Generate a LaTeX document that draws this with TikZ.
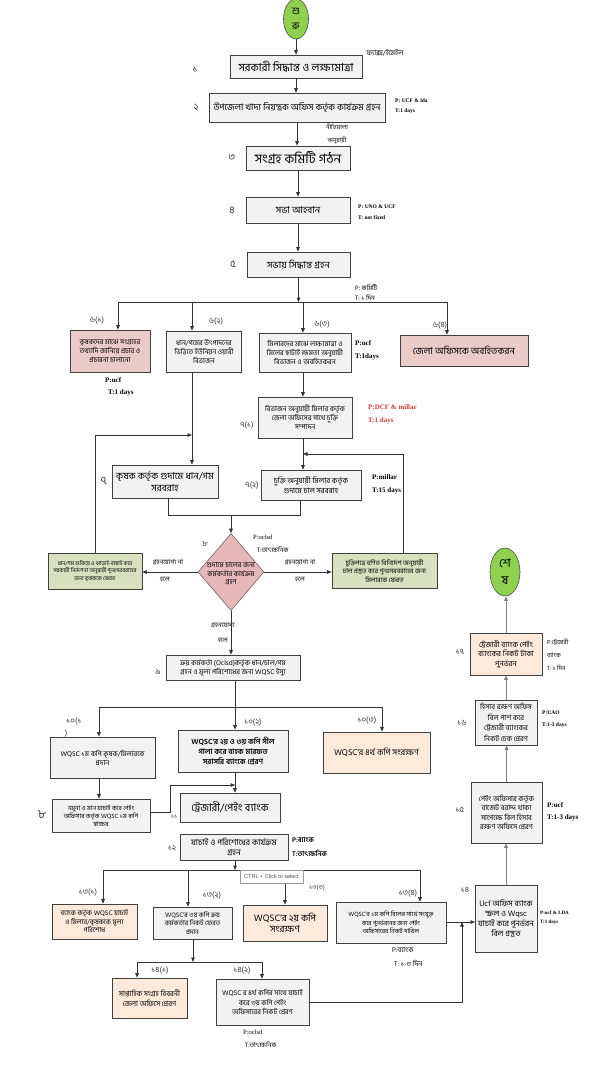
\documentclass[tikz,border=0pt]{standalone}
\usepackage{fontspec}
\setmainfont{Liberation Serif}
\newfontfamily\bn[Script=Bengali]{Hind Siliguri}
\newfontfamily\tipfont{Liberation Sans}
\usetikzlibrary{shapes.geometric,arrows.meta,shadows}
\definecolor{boxgray}{HTML}{F2F2F2}
\definecolor{boxpink}{HTML}{EBCBC8}
\definecolor{diapink}{HTML}{E6B9B8}
\definecolor{boxpeach}{HTML}{FDEADA}
\definecolor{boxgreen}{HTML}{D8E0C0}
\definecolor{startgreen}{HTML}{8FD14F}
\definecolor{redtxt}{HTML}{E03C31}
\tikzset{
  fs/.style 2 args={font=\bn\fontsize{#1}{#2}\selectfont},
  box/.style={draw=black!75, line width=0.7pt, fill=boxgray, align=center, inner sep=1pt,
    drop shadow={shadow xshift=0.9pt, shadow yshift=-0.9pt, fill=black!60}},
  pinkbox/.style={box, fill=boxpink},
  peachbox/.style={box, fill=boxpeach},
  greenbox/.style={box, fill=boxgreen},
  conn/.style={draw=black!80, line width=0.7pt},
  arr/.style={conn, -{Triangle[length=4.5pt,width=3.6pt]}},
  garr/.style={draw=black!50, line width=0.8pt, -{Triangle[length=4.5pt,width=3.6pt]}},
  lbl/.style={font=\bn\fontsize{#1}{#1}\selectfont, inner sep=0, text=black!80},
  lbl/.default=9,
  txt/.style={inner sep=0, align=center},
  side/.style={anchor=west, inner sep=0, font=\bfseries\fontsize{#1}{#1}\selectfont},
  side/.default=5.5,
  bside/.style={anchor=west, inner sep=0, font=\bn\fontsize{#1}{#1}\selectfont},
  bside/.default=6.5,
  tooltip/.style={draw=black!40, fill=white, inner sep=1pt, minimum width=63pt, minimum height=13pt,
    font=\tipfont\fontsize{5.5}{6}\selectfont, text=black!70,
    drop shadow={shadow xshift=0.8pt, shadow yshift=-0.8pt, fill=black!40}},
}
\begin{document}
\begin{tikzpicture}[x=1pt,y=-1pt]
\useasboundingbox (0,0) rectangle (605,1085);
\fill[white] (0,0) rectangle (605,1085);

% start
\node[ellipse, draw=black!70, fill=startgreen, minimum width=25pt, minimum height=40pt, inner sep=0, line width=0.6pt] (st) at (296,19) {};
\node[txt, fs={10}{15}] (stt) at (st) {শু\\রু};
\node[txt, fs={7}{8}] (fax) at (385,53) {ফ্যাক্স/ইমেইল};

% main column
\node[box, fs={11}{12}, minimum width=132pt, minimum height=23pt] (b1) at (296,66.5) {সরকারী সিদ্ধান্ত ও লক্ষ্যমাত্রা};
\node[lbl=10] (n1) at (195,70) {১};
\node[box, fs={9}{10}, minimum width=176pt, minimum height=29pt] (b2) at (297,107.5) {উপজেলা খাদ্য নিয়ন্ত্রক অফিস কর্তৃক কার্যক্রম গ্রহন};
\node[lbl=10] (n2) at (196,108) {২};
\node[side] (p2) at (395,101) {P: UCF \& lda};
\node[side] (t2) at (395,111) {T:1 days};
\node[txt, fs={6}{7}] (nit1) at (337,127) {নীতিমালা};
\node[txt, fs={6}{7}] (nit2) at (337,140) {অনুযায়ী};
\node[box, fs={13}{14}, minimum width=104pt, minimum height=24pt] (b3) at (298,158) {সংগ্রহ কমিটি গঠন};
\node[lbl=10] (n3) at (232,158) {৩};
\node[box, fs={9.5}{10}, minimum width=104pt, minimum height=26pt] (b4) at (298,210) {সভা আহবান};
\node[lbl=10] (n4) at (232,210) {৪};
\node[side] (p4) at (358,207) {P: UNO \& UCF};
\node[side] (t4) at (358,218) {T: not fixed};
\node[box, fs={9.5}{10}, minimum width=103pt, minimum height=25pt] (b5) at (298.5,264.5) {সভায় সিদ্ধান্ত গ্রহন};
\node[lbl=10] (n5) at (233,264) {৫};
\node[bside] (p5) at (355,287) {P: কমিটি};
\node[bside] (t5) at (355,298) {T: ১ দিন};

\draw[arr] (st.south) -- (st.south |- b1.north);
\draw[arr] (b1.south) -- (b1.south |- b2.north);
\draw[arr] (b2.south) -- (b2.south |- b3.north);
\draw[arr] (b3.south) -- (b3.south |- b4.north);
\draw[arr] (b4.south) -- (b4.south |- b5.north);

% row 6
\node[pinkbox, fs={7}{9}, minimum width=80pt, minimum height=42pt] (b61) at (110,351) {কৃষকদের মাঝে সংগ্রহের\\তথ্যাদি জানিয়ে প্রচার ও\\প্রচারনা চালানো};
\node[lbl=8] (n61) at (97,320) {৬(১)};
\node[side=7] (p61) at (105,380) {P:ucf};
\node[side=7] (t61) at (108,393) {T:1 days};
\node[box, fs={7}{9}, minimum width=75pt, minimum height=41pt] (b62) at (204,351.5) {ধান/গমের উৎপাদনের\\ভিত্তিতে ইউনিয়ন ওয়ারী\\বিভাজন};
\node[lbl=8] (n62) at (216,321) {৬(২)};
\node[box, fs={7}{9}, minimum width=92pt, minimum height=39pt] (b63) at (305,352.5) {মিলারদের মাঝে লক্ষ্যমাত্রা ও\\মিলের ছাটাই ক্ষমতা অনুযায়ী\\বিভাজন ও অবহিতকরন};
\node[lbl=8] (n63) at (322,324) {৬(৩)};
\node[side=7] (p63) at (355,343) {P:ucf};
\node[side=7] (t63) at (355,357) {T:1days};
\node[pinkbox, fs={9.5}{10}, minimum width=128pt, minimum height=31pt] (b64) at (464,350.5) {জেলা অফিসকে অবহিতকরন};
\node[lbl=8] (n64) at (440,325) {৬(৪)};

\coordinate (j5) at (298.5,302);
\coordinate (d1) at (118,302);
\coordinate (d2) at (192,302);
\coordinate (d3) at (303,302);
\coordinate (d4) at (447,302);
\draw[arr] (b5.south) -- (j5);
\draw[conn] (d1) -- (d4);
\draw[arr] (d1) -- (d1 |- b61.north);
\draw[arr] (d2) -- (d2 |- b62.north);
\draw[arr] (d3) -- (d3 |- b63.north);
\draw[arr] (d4) -- (d4 |- b64.north);

% row 7
\node[box, fs={7}{9}, minimum width=94pt, minimum height=41pt] (b71) at (305,417.5) {বিভাজন অনুযায়ী মিলার কর্তৃক\\জেলা অফিসের সাথে চুক্তি\\সম্পাদন};
\node[lbl=8] (n71) at (247,425) {৭(১)};
\node[side=7, text=redtxt] (p71) at (368,407) {P:DCF \& millar};
\node[side=7, text=redtxt] (t71) at (368,421) {T:1 days};
\node[box, fs={9.5}{11.5}, minimum width=106pt, minimum height=33pt] (b7) at (165,481.5) {কৃষক কর্তৃক গুদামে ধান/গম\\সরবরাহ};
\node[lbl=11] (n7) at (104,481) {৭};
\node[box, fs={7.5}{9.5}, minimum width=100pt, minimum height=30pt] (b72) at (311,485) {চুক্তি অনুযায়ী মিলার কর্তৃক\\গুদামে চাল সরবরাহ};
\node[lbl=8] (n72) at (252,485) {৭(২)};
\node[side=7] (p72) at (372,477) {P:millar};
\node[side=7] (t72) at (372,491) {T:15 days};

\draw[arr] (b62.south -| d2) -- (d2 |- b7.north);
\draw[arr] (b63.south -| d3) -- (d3 |- b71.north);
\draw[arr] (b71.south -| d3) -- (d3 |- b72.north);

% decision
\node[diamond, draw=black!60, fill=diapink, minimum width=66pt, minimum height=77pt, inner sep=0, line width=0.6pt] (dm) at (231,572) {};
\node[txt, fs={7}{8.5}] (dmt) at (231,574) {গুদামে চালের জন্য\\কর্মকর্তার কার্যক্রম\\গ্রহণ};
\node[lbl=8] (n8) at (205,544) {৮};
\node[side=6.5, font=\fontsize{6.5}{6.5}\selectfont] (p8) at (253,537) {P:oclsd};
\node[bside=6.5] (t8) at (257,550) {T:তাৎক্ষনিক};

\coordinate (m1) at (168,515);
\coordinate (m2) at (300,515);
\coordinate (m0) at (231,515);
\draw[conn] (b7.south -| m1) -- (m1) -- (m2) -- (b72.south -| m2);
\draw[arr] (m0) -- (dm.north);

\node[greenbox, fs={5.5}{7.5}, minimum width=94pt, minimum height=36pt] (bl) at (95,571) {ধান/গম শুকিয়ে ও ঝাড়াই-বাছাই করে\\সরকারী নির্দেশনা অনুযায়ী পুনঃসরবরাহের\\জন্য কৃষককে ফেরত};
\node[greenbox, fs={6.5}{8.5}, minimum width=105pt, minimum height=35pt] (br) at (384.5,571) {চুক্তিপত্রে বর্ণিত বিনির্দেশ অনুযায়ী\\চাল প্রস্তুত করে পুনঃসরবরাহের জন্য\\মিলারকে ফেরত};
\node[txt, fs={6.5}{7}] (nl1) at (168,562) {গ্রহনযোগ্য না};
\node[txt, fs={6.5}{7}] (nl2) at (165,579) {হলে};
\node[txt, fs={6.5}{7}] (nr1) at (300,562) {গ্রহনযোগ্য না};
\node[txt, fs={6.5}{7}] (nr2) at (300,579) {হলে};
\node[txt, fs={6.5}{7}] (nd1) at (223,625) {গ্রহনযোগ্য};
\node[txt, fs={6.5}{7}] (nd2) at (223,640) {হলে};

\draw[arr] (dm.west) -- (bl.east |- dm.west);
\draw[arr] (dm.east) -- (br.west |- dm.east);
\coordinate (lp1) at (95,435);
\coordinate (lp2) at (192,435);
\draw[arr] (bl.north -| lp1) -- (lp1) -- (lp2);
\coordinate (rp1) at (403,454);
\coordinate (rp2) at (303,454);
\draw[arr] (br.north -| rp1) -- (rp1) -- (rp2);

% 9
\node[box, fs={7}{9}, minimum width=134pt, minimum height=25pt] (b9) at (233,667.5) {ক্রয় কর্মকর্তা (Oclsd)কর্তৃক ধান/চাল/গম\\গ্রহন ও মূল্য পরিশোধের জন্য WQSC ইস্যু};
\node[lbl=8] (n9) at (158,672) {৯};
\draw[arr] (dm.south) -- (dm.south |- b9.north);

% row 10
\node[box, fs={7}{9}, minimum width=105pt, minimum height=41pt] (b101) at (102.5,757.5) {WQSC ১ম কপি কৃষক/মিলারকে\\প্রদান};
\node[lbl=8] (n101a) at (74,721) {১০(১};
\node[lbl=8] (n101b) at (66,733) {)};
\node[box, font=\bn\bfseries\fontsize{7.6}{10}\selectfont, minimum width=110pt, minimum height=42pt] (b102) at (233,751) {WQSC'র ২য় ও ৩য় কপি সীল\\গালা করে বাহক মারফত\\সরাসরি ব্যাংকে প্রেরণ};
\node[lbl=8] (n102) at (253,722) {১০(২)};
\node[peachbox, fs={8.5}{9}, minimum width=107pt, minimum height=41pt] (b103) at (376.5,752.5) {WQSC'র ৪র্থ কপি সংরক্ষণ};
\node[lbl=8] (n103) at (367,720) {১০(৩)};

\coordinate (s9) at (235,707);
\coordinate (s91) at (99,707);
\coordinate (s93) at (382,707);
\draw[conn] (b9.south -| s9) -- (s9);
\draw[conn] (s91) -- (s93);
\draw[arr] (s91) -- (s91 |- b101.north);
\draw[arr] (s9) -- (s9 |- b102.north);
\draw[arr] (s93) -- (s93 |- b103.north);

% 8 / 11 / 12
\node[box, fs={6.3}{8}, minimum width=98pt, minimum height=33pt] (b8) at (101,815.5) {নমুনা ও মান যাচাই করে পেইং\\অফিসার কর্তৃক WQSC ১ম কপি\\স্বাক্ষর};
\node[lbl=12] (n8b) at (42,815) {৮};
\node[box, fs={10.5}{11}, minimum width=100pt, minimum height=29pt] (b11) at (230,807.5) {ট্রেজারী/পেইং ব্যাংক};
\node[lbl=6.5] (n11) at (174,817) {১১};
\node[box, fs={8.3}{10}, minimum width=108pt, minimum height=26pt] (b12) at (234,847) {যাচাই ও পরিশোধের কার্যক্রম\\গ্রহন};
\node[lbl=8] (n12) at (172,848) {১২};
\node[bside=7, font=\bn\bfseries\fontsize{7}{7}\selectfont] (p12) at (292,840) {P:ব্যাংক};
\node[bside=7, font=\bn\bfseries\fontsize{7}{7}\selectfont] (t12) at (292,853) {T:তাৎক্ষনিক};

\draw[arr] (b101.south -| s91) -- (s91 |- b8.north);
\coordinate (k1) at (170,812);
\coordinate (k2) at (170,785);
\coordinate (k3) at (235,785);
\draw[arr] (b8.east |- k1) -- (k1) -- (k2) -- (k3);
\draw[arr] (b102.south -| s9) -- (s9 |- b11.north);

% row 13
\node[peachbox, fs={6.8}{8.5}, minimum width=85pt, minimum height=35pt] (b131) at (94.5,921.5) {ব্যাংক কর্তৃক WQSC যাচাই\\ও মিলার/কৃষককে মূল্য\\পরিশোধ};
\node[lbl=8] (n131) at (88,892) {১৩(১)};
\node[box, fs={6.6}{8.5}, minimum width=79pt, minimum height=32pt] (b132) at (192.5,923) {WQSC'র ৩য় কপি ক্রয়\\কর্মকর্তার নিকট ফেরত\\প্রদান};
\node[lbl=8] (n132) at (212,895) {১৩(২)};
\node[peachbox, fs={9.5}{11.5}, minimum width=84pt, minimum height=36pt] (b133) at (285,923) {WQSC'র ২য় কপি\\সংরক্ষণ};
\node[lbl=6.5] (n133) at (317,888) {১৩(৩)};
\node[box, fs={6.2}{8.3}, minimum width=110pt, minimum height=41pt] (b134) at (391,922.5) {WQSC'র ১ম কপি বিলের সাথে সংযুক্ত\\করে পুনর্ভরনের জন্য পেইং\\অফিসারের নিকট দাখিল};
\node[lbl=8] (n134) at (408,893) {১৩(৪)};
\node[bside=7] (p134) at (392,950) {P:ব্যাংক};
\node[bside=7] (t134) at (394,963) {T: ১-৩ দিন};

\coordinate (s12) at (235,870);
\coordinate (s121) at (103,870);
\coordinate (s122) at (188,870);
\coordinate (s123) at (285,870);
\coordinate (s124) at (420,870);
\draw[arr] (b12.south -| s12) -- (s12);
\draw[conn] (s121) -- (s124);
\draw[arr] (s121) -- (s121 |- b131.north);
\draw[arr] (s122) -- (s122 |- b132.north);
\draw[arr] (s123) -- (s123 |- b133.north);
\draw[arr] (s124) -- (s124 |- b134.north);
\node[tooltip] (tipbox) at (271.5,876.5) {CTRL + Click to select};

% row 14 (left)
\node[peachbox, fs={7.3}{9.5}, minimum width=75pt, minimum height=40pt] (b141) at (149.5,998) {সাপ্তাহিক সংগ্রহ বিবরনী\\জেলা অফিসে প্রেরণ};
\node[lbl=8] (n141) at (160,970) {১৪(১)};
\node[box, fs={7}{9.5}, minimum width=93pt, minimum height=46pt] (b142) at (262.5,1002) {WQSC র ৪র্থ কপির সাথে যাচাই\\করে ৩য় কপি পেইং\\অফিসারের নিকট প্রেরণ};
\node[lbl=8] (n142) at (242,970) {১৪(২)};
\node[side=6.5, font=\fontsize{6.5}{6.5}\selectfont] (p142) at (243,1032) {P:oclsd};
\node[bside=6.5] (t142) at (245,1045) {T:তাৎক্ষনিক};

\coordinate (s13) at (193,962);
\coordinate (s131) at (137,962);
\coordinate (s132) at (262,962);
\draw[arr] (b132.south -| s13) -- (s13);
\draw[conn] (s131) -- (s132);
\draw[arr] (s131) -- (s131 |- b141.north);
\draw[arr] (s132) -- (s132 |- b142.north);

% right column
\node[box, fs={8}{10}, minimum width=62pt, minimum height=67pt] (b14) at (506,918.5) {Ucf অফিস ব্যাংক\\স্ক্রল ও Wqsc\\যাচাই করে পূনর্ভরন\\বিল প্রস্তুত};
\node[lbl=8] (n14) at (465,890) {১৪};
\node[side=5] (p14) at (540,913) {P:ucf \& LDA};
\node[side=5] (t14) at (540,922) {T:1 days};
\node[box, fs={7.2}{9.5}, minimum width=71pt, minimum height=61pt] (b15) at (506.5,812.5) {পেইং অফিসার কর্তৃক\\বাজেট বরাদ্দ থাকা\\সাপেক্ষে বিল হিসাব\\রক্ষণ অফিসে প্রেরণ};
\node[lbl=8] (n15) at (460,810) {১৫};
\node[side=7] (p15) at (547,805) {P:ucf};
\node[side=7] (t15) at (547,818) {T:1-3 days};
\node[box, fs={7.2}{10.5}, minimum width=62pt, minimum height=45pt] (b16) at (506,722.5) {হিসাব রক্ষণ অফিস\\বিল পাশ করে\\ট্রেজারী ব্যাংকের\\নিকট চেক প্রেরণ};
\node[lbl=8] (n16) at (462,723) {১৬};
\node[side=5.5] (p16) at (542,713) {P:UAO};
\node[side=5.5] (t16) at (542,725) {T:1-3 days};
\node[peachbox, fs={7.5}{9.5}, minimum width=72pt, minimum height=42pt] (b17) at (506,654) {ট্রেজারী ব্যাংক পেইং\\ব্যাংকের নিকট টাকা\\পুনর্ভরন};
\node[lbl=8] (n17) at (460,652) {১৭};
\node[bside=6] (p17) at (547,642) {P:ট্রেজারী};
\node[bside=6] (p17b) at (547,655) {ব্যাংক};
\node[bside=6] (t17) at (547,668) {T: ১ দিন};
\node[ellipse, draw=black!70, fill=startgreen, minimum width=30pt, minimum height=48pt, inner sep=0, line width=0.6pt] (en) at (505,572) {};
\node[txt, fs={12}{17}] (ent) at (en) {শে\\ষ};

\coordinate (r14) at (475,922);
\draw[arr] (b134.east |- r14) -- (r14);
\coordinate (u1) at (462,1002);
\coordinate (u2) at (462,922);
\draw[arr] (b142.east |- u1) -- (u1) -- (u2);
\draw[garr] (b14.north) -- (b14.north |- b15.south);
\draw[garr] (b15.north) -- (b15.north |- b16.south);
\draw[garr] (b16.north) -- (b16.north |- b17.south);
\draw[garr] (b17.north) -- (b17.north |- en.south);
\end{tikzpicture}
\end{document}
